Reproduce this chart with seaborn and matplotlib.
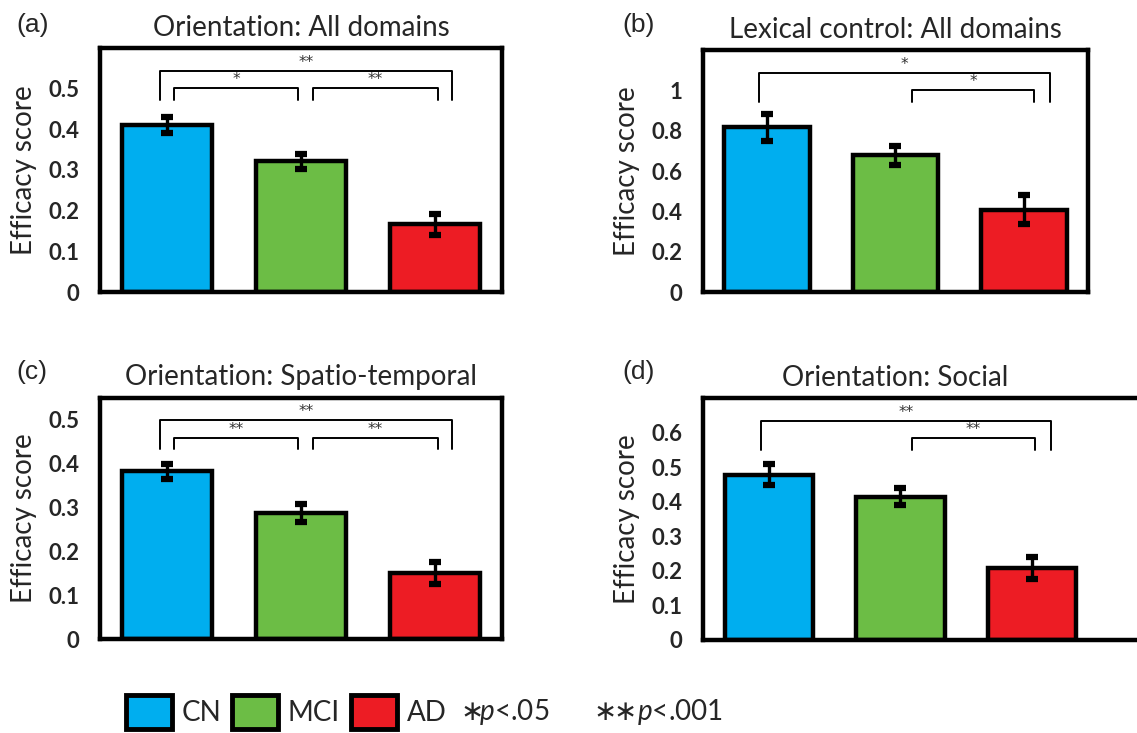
import matplotlib
matplotlib.use("Agg")
import matplotlib.pyplot as plt
import matplotlib.transforms as mtransforms
from matplotlib.patches import Patch
from matplotlib.ticker import FuncFormatter
import seaborn as sns
import pandas as pd

# ---------------- data ----------------
groups = ["CN", "MCI", "AD"]
colors = ["#00AEEF", "#6CBD45", "#ED1C24"]

titles = ["Orientation: All domains", "Lexical control: All domains",
          "Orientation: Spatio-temporal", "Orientation: Social"]
panel_labels = ["(a)", "(b)", "(c)", "(d)"]

orient_all_mean = [0.410, 0.321, 0.166]
orient_all_err = [0.020, 0.019, 0.025]
lexical_all_mean = [0.816, 0.677, 0.408]
lexical_all_err = [0.068, 0.045, 0.072]
orient_spt_mean = [0.383, 0.287, 0.150]
orient_spt_err = [0.017, 0.020, 0.025]
orient_soc_mean = [0.478, 0.415, 0.208]
orient_soc_err = [0.030, 0.025, 0.031]

means = [orient_all_mean, lexical_all_mean, orient_spt_mean, orient_soc_mean]
errs = [orient_all_err, lexical_all_err, orient_spt_err, orient_soc_err]

y_max = [0.6, 1.2, 0.55, 0.7]
y_ticks = [[0, 0.1, 0.2, 0.3, 0.4, 0.5],
           [0, 0.2, 0.4, 0.6, 0.8, 1.0],
           [0, 0.1, 0.2, 0.3, 0.4, 0.5],
           [0, 0.1, 0.2, 0.3, 0.4, 0.5, 0.6]]

# significance brackets: (x_start, x_end, level, label)  level 0 = upper, 1 = lower
brackets = [
    [(-0.05, 2.13, 0, "**"), (0.05, 0.98, 1, "*"), (1.09, 2.02, 1, "**")],
    [(-0.06, 2.20, 0, "*"), (1.13, 2.08, 1, "*")],
    [(-0.05, 2.13, 0, "**"), (0.05, 0.98, 1, "**"), (1.09, 2.02, 1, "**")],
    [(-0.06, 2.14, 0, "**"), (1.09, 2.02, 1, "**")],
]
level_y = [0.907, 0.835]
leg_bottom = 0.787

# ---------------- style ----------------
sns.set_theme(style="white")
plt.rcParams["font.family"] = ["Lato", "DejaVu Sans"]
plt.rcParams["mathtext.fontset"] = "custom"
plt.rcParams["mathtext.rm"] = "DejaVu Sans"
plt.rcParams["mathtext.it"] = "Lato:italic"

W, H = 1137, 733
fig = plt.figure(figsize=(W / 100, H / 100), dpi=100)

# axes boxes in pixels: left, top, right, bottom
boxes = [(100, 48, 502, 292), (703, 50, 1088, 292),
         (100, 398, 502, 639), (703, 398, 1144, 640)]
x_right = [2.5, 2.5, 2.5, 2.85]
title_x = [0.5, 0.5, 0.5, 0.435]
label_pos = [(16, 25), (622, 25), (16, 372), (622, 372)]

for k in range(4):
    l, t, r, b = boxes[k]
    ax = fig.add_axes([l / W, (H - b) / H, (r - l) / W, (b - t) / H])
    df = pd.DataFrame({"group": groups, "value": means[k]})
    sns.barplot(data=df, x="group", y="value", hue="group", palette=colors,
                order=groups, hue_order=groups, width=0.67, errorbar=None,
                edgecolor="black", linewidth=3.2, legend=False, ax=ax,
                saturation=1)
    ax.errorbar(x=range(3), y=means[k], yerr=errs[k], fmt="none",
                ecolor="black", elinewidth=2.4, capsize=4.5, capthick=4.5,
                zorder=5)
    ax.set_xlim(-0.5, x_right[k])
    ax.set_ylim(0, y_max[k])
    ax.set_yticks(y_ticks[k])
    ax.yaxis.set_major_formatter(FuncFormatter(lambda v, p: f"{v:g}"))
    ax.tick_params(axis="y", length=0, pad=15, labelsize=16)
    for lab in ax.get_yticklabels():
        lab.set_fontweight("bold")
    ax.set_xticks([])
    ax.set_xlabel("")
    ax.set_ylabel("Efficacy score", fontsize=20, va="center")
    ax.yaxis.set_label_coords(-76 / (r - l), 0.5)
    for s in ax.spines.values():
        s.set_visible(True)
        s.set_color("black")
        s.set_linewidth(3.2)
    ax.set_title(titles[k], fontsize=20, x=title_x[k], pad=9)

    trans = mtransforms.blended_transform_factory(ax.transData, ax.transAxes)
    for (x0, x1, lev, lab) in brackets[k]:
        yb = level_y[lev]
        ax.plot([x0, x0, x1, x1], [leg_bottom, yb, yb, leg_bottom],
                color="black", lw=1.4, transform=trans, clip_on=False)
        ax.text((x0 + x1) / 2, yb + 0.035, lab, transform=trans,
                ha="center", va="center", fontsize=11, color="#333333",
                family="DejaVu Sans")

    px, py = label_pos[k]
    fig.text(px / W, 1 - py / H, panel_labels[k], fontsize=19,
             family="Liberation Sans", ha="left", va="center")

# ---------------- legend ----------------
handles = [Patch(facecolor=c, edgecolor="black", linewidth=3.5) for c in colors]
leg = fig.legend(handles, groups, loc="center left",
                 bbox_to_anchor=(126 / W, 1 - 712 / H), ncol=3, frameon=False,
                 fontsize=20, handlelength=1.65, handleheight=1.55,
                 handletextpad=0.35, columnspacing=0.4, borderpad=0,
                 borderaxespad=0)
fig.text(460 / W, 1 - 712 / H, r"$\ast\!\mathit{p}$<.05", fontsize=20,
         ha="left", va="center")
fig.text(593 / W, 1 - 712 / H, r"$\ast\!\!\ast\!\mathit{p}$<.001", fontsize=20,
         ha="left", va="center")

fig.savefig("out.png", dpi=100)
